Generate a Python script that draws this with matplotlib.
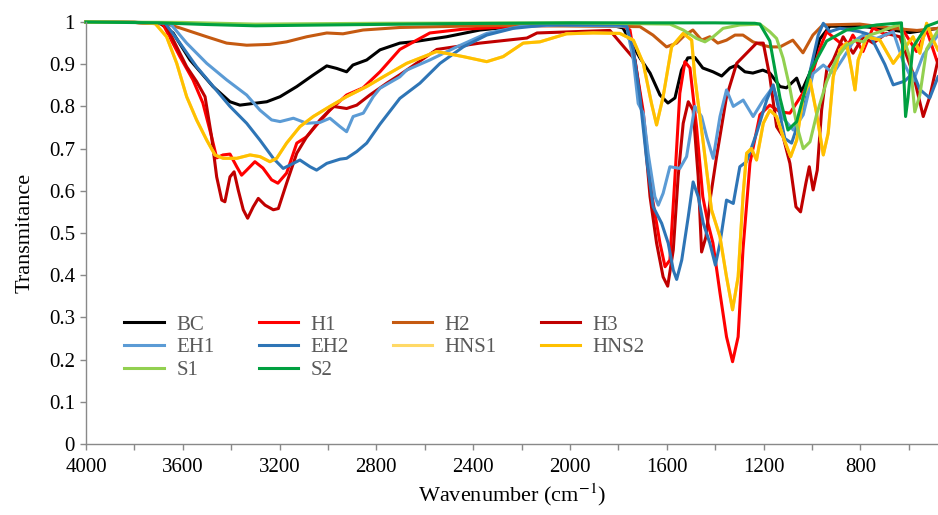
#!/usr/bin/env python3
"""
FTIR transmittance spectra of the BC / H / EH / HNS / S samples.
Writes out.png (938x515).
"""
import matplotlib
matplotlib.use("Agg")
import matplotlib.pyplot as plt
from matplotlib.ticker import FixedLocator, FuncFormatter

# ---- spectra: wavenumber (cm-1) and transmittance ----
bc_wn = [4000, 3800, 3694, 3640, 3570, 3475, 3405, 3364, 3253, 3198, 3129, 3062,
         3005, 2964, 2923, 2897, 2840, 2785, 2703, 2649, 2510, 2372, 2236, 2096,
         1835, 1781, 1711, 1669, 1628, 1595, 1566, 1539, 1513, 1484, 1451, 1409,
         1373, 1339, 1311, 1277, 1244, 1203, 1174, 1132, 1105, 1063, 1043, 1008,
         967, 926, 802, 719, 595, 479]
bc_t = [1.0, 0.999, 0.997, 0.974, 0.91, 0.847, 0.811, 0.803, 0.811, 0.823, 0.847, 0.874,
        0.896, 0.89, 0.882, 0.898, 0.91, 0.934, 0.95, 0.953, 0.965, 0.981, 0.989, 0.993,
        0.993, 0.986, 0.915, 0.879, 0.827, 0.808, 0.82, 0.886, 0.915, 0.916, 0.891, 0.882,
        0.872, 0.891, 0.898, 0.882, 0.879, 0.886, 0.879, 0.847, 0.844, 0.867, 0.835, 0.88,
        0.96, 0.99, 0.99, 0.985, 0.975, 0.985]

h1_wn = [4000, 3800, 3682, 3612, 3558, 3517, 3481, 3460, 3434, 3405, 3377, 3357,
         3336, 3302, 3269, 3233, 3207, 3171, 3129, 3088, 3047, 2992, 2923, 2855,
         2785, 2703, 2579, 2442, 2165, 1794, 1752, 1698, 1663, 1628, 1607, 1587,
         1566, 1546, 1525, 1504, 1477, 1451, 1430, 1409, 1380, 1353, 1328, 1305,
         1285, 1256, 1215, 1174, 1132, 1091, 1050, 1008, 967, 939, 857, 831, 789,
         748, 692, 637, 568, 526, 479]
h1_t = [1.0, 0.999, 0.995, 0.918, 0.863, 0.808, 0.728, 0.678, 0.685, 0.687, 0.657, 0.637,
        0.649, 0.669, 0.654, 0.626, 0.618, 0.642, 0.713, 0.728, 0.756, 0.791, 0.827, 0.844,
        0.882, 0.935, 0.974, 0.983, 0.991, 0.993, 0.981, 0.791, 0.594, 0.476, 0.42, 0.436,
        0.633, 0.831, 0.906, 0.891, 0.752, 0.586, 0.524, 0.476, 0.358, 0.254, 0.195, 0.254,
        0.46, 0.666, 0.78, 0.803, 0.787, 0.784, 0.82, 0.859, 0.938, 0.977, 0.938, 0.969, 0.93,
        0.986, 0.969, 0.993, 0.93, 0.981, 0.9]

h2_wn = [4000, 3800, 3682, 3612, 3501, 3419, 3336, 3240, 3171, 3088, 3005, 2938,
         2855, 2703, 2289, 1711, 1657, 1601, 1559, 1525, 1492, 1456, 1422, 1389,
         1353, 1318, 1285, 1244, 1203, 1174, 1132, 1079, 1037, 996, 955, 802, 665,
         566, 479]
h2_t = [1.0, 0.999, 0.998, 0.986, 0.965, 0.95, 0.945, 0.947, 0.953, 0.965, 0.974, 0.972,
        0.981, 0.987, 0.992, 0.989, 0.969, 0.941, 0.95, 0.969, 0.981, 0.957, 0.965, 0.95,
        0.957, 0.969, 0.969, 0.953, 0.945, 0.941, 0.941, 0.957, 0.927, 0.969, 0.993, 0.995,
        0.985, 0.98, 0.985]

h3_wn = [4000, 3800, 3674, 3625, 3584, 3543, 3508, 3481, 3460, 3439, 3426, 3405,
         3388, 3371, 3350, 3332, 3309, 3288, 3260, 3226, 3205, 3171, 3129, 3088,
         3033, 2978, 2923, 2881, 2827, 2757, 2703, 2550, 2372, 2178, 2136, 1835,
         1731, 1698, 1669, 1642, 1615, 1596, 1573, 1553, 1532, 1511, 1491, 1470,
         1456, 1438, 1419, 1394, 1353, 1311, 1270, 1229, 1201, 1174, 1146, 1119,
         1091, 1066, 1047, 1025, 1011, 995, 978, 960, 939, 912, 871, 830, 788, 747,
         692, 637, 582, 540, 513, 479]
h3_t = [1.0, 0.999, 0.997, 0.941, 0.894, 0.859, 0.823, 0.728, 0.633, 0.578, 0.574, 0.633,
        0.645, 0.602, 0.555, 0.535, 0.562, 0.582, 0.566, 0.555, 0.558, 0.618, 0.689, 0.728,
        0.768, 0.8, 0.795, 0.803, 0.827, 0.855, 0.875, 0.935, 0.95, 0.962, 0.974, 0.98,
        0.91, 0.776, 0.586, 0.476, 0.396, 0.374, 0.46, 0.633, 0.76, 0.811, 0.791, 0.633,
        0.455, 0.491, 0.586, 0.681, 0.823, 0.902, 0.926, 0.95, 0.95, 0.87, 0.752, 0.728,
        0.665, 0.562, 0.55, 0.618, 0.657, 0.602, 0.649, 0.791, 0.886, 0.91, 0.965, 0.926,
        0.965, 0.95, 0.973, 0.965, 0.878, 0.776, 0.823, 0.91]

eh1_wn = [4000, 3800, 3653, 3584, 3501, 3419, 3336, 3281, 3233, 3198, 3143, 3088,
          3033, 2992, 2950, 2923, 2896, 2854, 2813, 2785, 2703, 2675, 2579, 2468,
          2344, 2207, 2041, 1766, 1738, 1718, 1697, 1677, 1649, 1635, 1615, 1587,
          1546, 1518, 1484, 1456, 1435, 1408, 1380, 1353, 1325, 1284, 1243, 1201,
          1160, 1119, 1077, 1036, 995, 953, 912, 871, 830, 788, 733, 664, 623, 582,
          540, 479]
eh1_t = [1.0, 0.999, 0.997, 0.95, 0.902, 0.863, 0.827, 0.791, 0.768, 0.764, 0.772, 0.76,
         0.762, 0.772, 0.752, 0.74, 0.776, 0.784, 0.823, 0.843, 0.87, 0.886, 0.91, 0.941,
         0.973, 0.989, 0.993, 0.99, 0.91, 0.807, 0.784, 0.689, 0.586, 0.566, 0.594, 0.657,
         0.653, 0.681, 0.8, 0.776, 0.728, 0.677, 0.776, 0.839, 0.8, 0.815, 0.776, 0.815,
         0.847, 0.772, 0.744, 0.78, 0.878, 0.898, 0.878, 0.914, 0.953, 0.969, 0.961, 0.977,
         0.906, 0.859, 0.922, 0.969]

eh2_wn = [4000, 3800, 3674, 3612, 3543, 3474, 3405, 3336, 3281, 3226, 3185, 3143,
          3116, 3074, 3047, 3005, 2950, 2923, 2881, 2840, 2785, 2703, 2620, 2537,
          2441, 2344, 2234, 2096, 1794, 1766, 1738, 1711, 1683, 1656, 1621, 1594,
          1573, 1559, 1538, 1511, 1491, 1470, 1449, 1422, 1399, 1380, 1353, 1325,
          1298, 1270, 1229, 1187, 1160, 1132, 1112, 1084, 1050, 1008, 974, 953, 926,
          884, 802, 761, 699, 664, 616, 582, 554, 513, 479]
eh2_t = [1.0, 0.999, 0.998, 0.95, 0.894, 0.847, 0.8, 0.76, 0.72, 0.677, 0.653, 0.665,
         0.673, 0.657, 0.649, 0.665, 0.675, 0.677, 0.693, 0.713, 0.758, 0.819, 0.855, 0.902,
         0.941, 0.969, 0.985, 0.993, 0.993, 0.99, 0.934, 0.823, 0.673, 0.562, 0.523, 0.476,
         0.412, 0.39, 0.436, 0.539, 0.621, 0.586, 0.523, 0.476, 0.424, 0.476, 0.578, 0.57,
         0.657, 0.669, 0.736, 0.815, 0.851, 0.78, 0.724, 0.713, 0.772, 0.882, 0.969, 0.997,
         0.977, 0.985, 0.977, 0.97, 0.9, 0.851, 0.86, 0.88, 0.84, 0.82, 0.87]

hns2_wn = [4000, 3800, 3715, 3667, 3625, 3584, 3543, 3501, 3467, 3433, 3377, 3322,
           3281, 3240, 3212, 3171, 3116, 3061, 2992, 2923, 2840, 2772, 2675, 2551,
           2441, 2344, 2276, 2193, 2124, 2014, 1904, 1794, 1738, 1697, 1663, 1642,
           1615, 1580, 1532, 1497, 1484, 1449, 1415, 1380, 1353, 1328, 1305, 1284,
           1270, 1250, 1229, 1201, 1174, 1146, 1119, 1088, 1063, 1036, 1008, 981, 953,
           933, 912, 884, 857, 836, 822, 809, 774, 719, 664, 623, 582, 554, 526, 499,
           479]
hns2_t = [1.0, 0.999, 0.997, 0.965, 0.902, 0.823, 0.768, 0.72, 0.685, 0.677, 0.677, 0.685,
          0.681, 0.669, 0.677, 0.713, 0.752, 0.776, 0.8, 0.823, 0.847, 0.87, 0.902, 0.93,
          0.918, 0.906, 0.918, 0.95, 0.953, 0.972, 0.974, 0.973, 0.957, 0.902, 0.807, 0.756,
          0.823, 0.941, 0.973, 0.957, 0.87, 0.713, 0.555, 0.491, 0.396, 0.318, 0.396, 0.594,
          0.689, 0.7, 0.673, 0.76, 0.791, 0.776, 0.728, 0.681, 0.72, 0.823, 0.863, 0.784,
          0.685, 0.736, 0.87, 0.934, 0.95, 0.886, 0.839, 0.91, 0.965, 0.957, 0.902, 0.934,
          0.965, 0.926, 0.997, 0.957, 0.934]

# HNS1 cannot be seen anywhere in the figure: it runs underneath HNS2
hns1_wn = hns2_wn
hns1_t = hns2_t

s1_wn = [4000, 3600, 3300, 2800, 2000, 1587, 1532, 1477, 1442, 1408, 1367, 1298,
         1215, 1174, 1146, 1119, 1091, 1063, 1036, 1008, 981, 939, 898, 857, 816,
         788, 761, 719, 664, 637, 595, 575, 554, 526, 479]
s1_t = [1.0, 0.999, 0.995, 0.997, 0.998, 0.995, 0.981, 0.961, 0.953, 0.965, 0.985, 0.993,
        0.995, 0.977, 0.961, 0.914, 0.843, 0.756, 0.7, 0.716, 0.78, 0.859, 0.914, 0.945,
        0.957, 0.953, 0.969, 0.977, 0.989, 0.993, 0.914, 0.787, 0.827, 0.936, 0.98]

s2_wn = [4000, 3700, 3500, 3300, 3000, 2500, 2000, 1400, 1236, 1215, 1174, 1132,
         1099, 1063, 1008, 939, 857, 733, 630, 621, 613, 603, 583, 526, 479]
s2_t = [1.0, 0.998, 0.994, 0.991, 0.993, 0.996, 0.998, 0.998, 0.997, 0.995, 0.955, 0.82,
        0.744, 0.764, 0.882, 0.955, 0.981, 0.993, 0.998, 0.88, 0.776, 0.82, 0.94, 0.99,
        1.0]

labels = ["BC", "H1", "H2", "H3", "EH1", "EH2", "HNS1", "HNS2", "S1", "S2"]
colors = ["#000000", "#FF0000", "#C55A11", "#C00000", "#5B9BD5", "#2E75B6",
          "#FFD966", "#FFC000", "#92D050", "#00A040"]
series = [(bc_wn, bc_t), (h1_wn, h1_t), (h2_wn, h2_t), (h3_wn, h3_t),
          (eh1_wn, eh1_t), (eh2_wn, eh2_t), (hns1_wn, hns1_t), (hns2_wn, hns2_t),
          (s1_wn, s1_t), (s2_wn, s2_t)]

major_x = [4000, 3600, 3200, 2800, 2400, 2000, 1600, 1200, 800]
minor_x = [3800, 3400, 3000, 2600, 2200, 1800, 1400, 1000, 600]
y_ticks = [0, 0.1, 0.2, 0.3, 0.4, 0.5, 0.6, 0.7, 0.8, 0.9, 1.0]

plt.rcParams["font.family"] = ["Liberation Serif", "DejaVu Serif"]
plt.rcParams["mathtext.fontset"] = "stix"
AXIS_GRAY = "#898989"

fig = plt.figure(figsize=(9.38, 5.15), dpi=100)
ax = fig.add_axes([86 / 938, 71 / 515, 1 - 86 / 938, 422 / 515])

handles = {}
for (wn, t), lab, col in zip(series, labels, colors):
    (ln,) = ax.plot(wn, t, color=col, lw=2.2, label=lab,
                    solid_joinstyle="round", clip_on=False)
    handles[lab] = ln

ax.set_xlim(4000, 479)
ax.set_ylim(0, 1)
ax.xaxis.set_major_locator(FixedLocator(major_x))
ax.xaxis.set_minor_locator(FixedLocator(minor_x))
ax.yaxis.set_major_locator(FixedLocator(y_ticks))
ax.yaxis.set_major_formatter(FuncFormatter(lambda v, _: f"{v:g}"))

for side in ("top", "right"):
    ax.spines[side].set_visible(False)
for side in ("left", "bottom"):
    ax.spines[side].set_color(AXIS_GRAY)
    ax.spines[side].set_linewidth(1.0)
ax.tick_params(which="both", direction="out", length=4, width=1,
               color=AXIS_GRAY, labelsize=15, labelcolor="black")
ax.tick_params(axis="x", pad=6)
ax.tick_params(axis="y", pad=4)

ax.set_xlabel("Wavenumber (cm$^{\\mathrm{-1}}$)", fontsize=16, labelpad=3)
ax.set_ylabel("Transmitance", fontsize=16, labelpad=10)

# legend is laid out column-wise, so order entries to read row by row
order = ["BC", "EH1", "S1", "H1", "EH2", "S2", "H2", "HNS1", "H3", "HNS2"]
leg = ax.legend([handles[k] for k in order], order, ncol=4, frameon=False,
                loc="upper left", bbox_to_anchor=(0.028, 0.34), fontsize=15,
                handlelength=1.9, handletextpad=0.6, columnspacing=2.1,
                labelspacing=0.15, borderpad=0.2)
for txt in leg.get_texts():
    txt.set_color("#595959")

fig.savefig("out.png", dpi=100)
